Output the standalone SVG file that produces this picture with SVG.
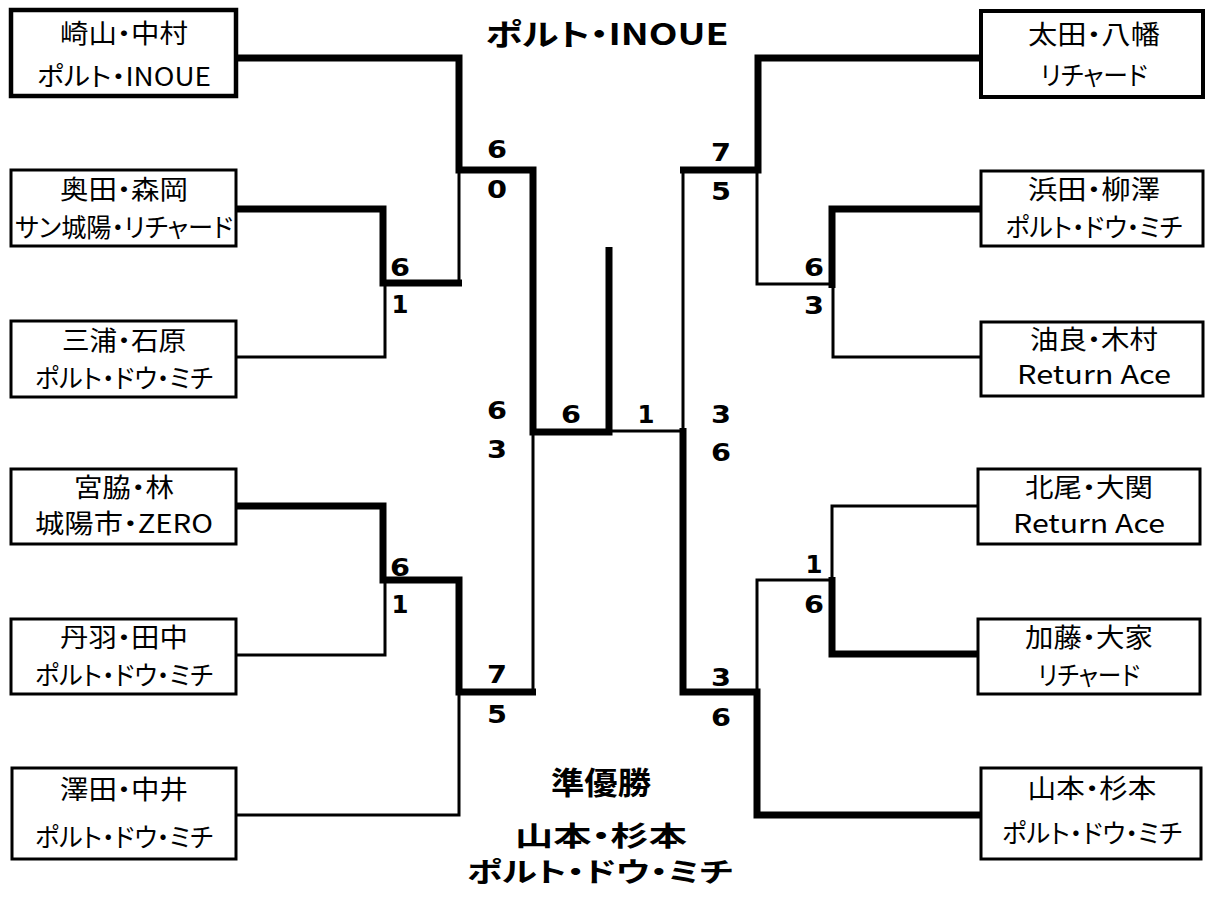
<svg xmlns="http://www.w3.org/2000/svg" width="1209" height="904" viewBox="0 0 1209 904">
<style>
.box{fill:#fff;stroke:#000;stroke-width:3}
.b1{stroke-width:4.5}
.t{font-family:"Noto Sans CJK JP","Noto Sans",sans-serif;font-size:26px;fill:#000;text-anchor:middle;font-feature-settings:"palt"}
.title{font-family:"Noto Sans CJK JP","Noto Sans",sans-serif;font-size:28px;font-weight:bold;fill:#000;text-anchor:middle;font-feature-settings:"palt"}
.s{font-family:"DejaVu Sans","Liberation Sans",sans-serif;font-size:24px;font-weight:bold;fill:#000;text-anchor:middle}
.thick{fill:none;stroke:#000;stroke-width:7;stroke-linejoin:miter;stroke-linecap:butt}
.thin{fill:none;stroke:#000;stroke-width:3;stroke-linejoin:miter;stroke-linecap:butt}
</style>
<rect width="1209" height="904" fill="#fff"/>
<g id="connectors">
<path class="thin" d="M459 170V283"/>
<path class="thin" d="M237 357H385V283"/>
<path class="thin" d="M237 655H385V580"/>
<path class="thin" d="M237 815H459V692"/>
<path class="thin" d="M533 432V692"/>
<path class="thin" d="M609 431H683V170"/>
<path class="thin" d="M757 170V284H832"/>
<path class="thin" d="M980 357H833V284"/>
<path class="thin" d="M980 506H832V580H757V692"/>
<path class="thick" d="M237 58H459V170H533V432H609V247"/>
<path class="thick" d="M237 209H383V283H462"/>
<path class="thick" d="M237 506H383V580H459V692H536"/>
<path class="thick" d="M980 58H758V170H680"/>
<path class="thick" d="M683 428V692H757V815H980"/>
<path class="thick" d="M980 209H832V288"/>
<path class="thick" d="M980 654H832V577"/>
</g>
<g id="scores">
<text class="s" x="400" y="276" textLength="20" lengthAdjust="spacingAndGlyphs">6</text>
<text class="s" x="400" y="313" textLength="17" lengthAdjust="spacingAndGlyphs">1</text>
<text class="s" x="497" y="158" textLength="20" lengthAdjust="spacingAndGlyphs">6</text>
<text class="s" x="497" y="198" textLength="20" lengthAdjust="spacingAndGlyphs">0</text>
<text class="s" x="721" y="161" textLength="20" lengthAdjust="spacingAndGlyphs">7</text>
<text class="s" x="721" y="200" textLength="20" lengthAdjust="spacingAndGlyphs">5</text>
<text class="s" x="497" y="419" textLength="20" lengthAdjust="spacingAndGlyphs">6</text>
<text class="s" x="497" y="458" textLength="20" lengthAdjust="spacingAndGlyphs">3</text>
<text class="s" x="571" y="423" textLength="20" lengthAdjust="spacingAndGlyphs">6</text>
<text class="s" x="646" y="423" textLength="17" lengthAdjust="spacingAndGlyphs">1</text>
<text class="s" x="721" y="423" textLength="20" lengthAdjust="spacingAndGlyphs">3</text>
<text class="s" x="721" y="461" textLength="20" lengthAdjust="spacingAndGlyphs">6</text>
<text class="s" x="814" y="276" textLength="20" lengthAdjust="spacingAndGlyphs">6</text>
<text class="s" x="814" y="314" textLength="20" lengthAdjust="spacingAndGlyphs">3</text>
<text class="s" x="814" y="573" textLength="17" lengthAdjust="spacingAndGlyphs">1</text>
<text class="s" x="814" y="613" textLength="20" lengthAdjust="spacingAndGlyphs">6</text>
<text class="s" x="721" y="686" textLength="20" lengthAdjust="spacingAndGlyphs">3</text>
<text class="s" x="721" y="726" textLength="20" lengthAdjust="spacingAndGlyphs">6</text>
<text class="s" x="400" y="576" textLength="20" lengthAdjust="spacingAndGlyphs">6</text>
<text class="s" x="400" y="613" textLength="17" lengthAdjust="spacingAndGlyphs">1</text>
<text class="s" x="497" y="683" textLength="20" lengthAdjust="spacingAndGlyphs">7</text>
<text class="s" x="497" y="723" textLength="20" lengthAdjust="spacingAndGlyphs">5</text>
</g>
<g id="L1"><rect class="box b1" x="11" y="10" width="225" height="86"/>
<text class="t" x="124" y="43" textLength="128" lengthAdjust="spacingAndGlyphs">崎山・中村</text>
<text class="t" x="124" y="86" textLength="174" lengthAdjust="spacingAndGlyphs">ポルト・INOUE</text></g>
<g id="L2"><rect class="box" x="11" y="170" width="225" height="76"/>
<text class="t" x="124" y="199" textLength="128" lengthAdjust="spacingAndGlyphs">奥田・森岡</text>
<text class="t" x="124" y="237" textLength="218" lengthAdjust="spacingAndGlyphs">サン城陽・リチャード</text></g>
<g id="L3"><rect class="box" x="11" y="321" width="225" height="76"/>
<text class="t" x="124" y="350" textLength="124" lengthAdjust="spacingAndGlyphs">三浦・石原</text>
<text class="t" x="124" y="388" textLength="178" lengthAdjust="spacingAndGlyphs">ポルト・ドウ・ミチ</text></g>
<g id="L4"><rect class="box" x="11" y="469" width="225" height="75"/>
<text class="t" x="124" y="497" textLength="100" lengthAdjust="spacingAndGlyphs">宮脇・林</text>
<text class="t" x="124" y="533" textLength="178" lengthAdjust="spacingAndGlyphs">城陽市・ZERO</text></g>
<g id="L5"><rect class="box" x="11" y="619" width="225" height="75"/>
<text class="t" x="124" y="647" textLength="128" lengthAdjust="spacingAndGlyphs">丹羽・田中</text>
<text class="t" x="124" y="685" textLength="178" lengthAdjust="spacingAndGlyphs">ポルト・ドウ・ミチ</text></g>
<g id="L6"><rect class="box" x="12" y="768" width="224" height="91"/>
<text class="t" x="124" y="799" textLength="128" lengthAdjust="spacingAndGlyphs">澤田・中井</text>
<text class="t" x="124" y="847" textLength="178" lengthAdjust="spacingAndGlyphs">ポルト・ドウ・ミチ</text></g>
<g id="R1"><rect class="box" x="981" y="11" width="222" height="86" style="stroke-width:4"/>
<text class="t" x="1094" y="44" textLength="132" lengthAdjust="spacingAndGlyphs">太田・八幡</text>
<text class="t" x="1094" y="85" textLength="107" lengthAdjust="spacingAndGlyphs">リチャード</text></g>
<g id="R2"><rect class="box" x="981" y="171" width="222" height="75"/>
<text class="t" x="1094" y="199" textLength="132" lengthAdjust="spacingAndGlyphs">浜田・柳澤</text>
<text class="t" x="1094" y="237" textLength="177" lengthAdjust="spacingAndGlyphs">ポルト・ドウ・ミチ</text></g>
<g id="R3"><rect class="box" x="981" y="322" width="222" height="74"/>
<text class="t" x="1094" y="349" textLength="128" lengthAdjust="spacingAndGlyphs">油良・木村</text>
<text class="t" x="1094" y="384" textLength="154" lengthAdjust="spacingAndGlyphs">Return Ace</text></g>
<g id="R4"><rect class="box" x="978" y="469" width="222" height="75"/>
<text class="t" x="1089" y="497" textLength="128" lengthAdjust="spacingAndGlyphs">北尾・大関</text>
<text class="t" x="1089" y="533" textLength="152" lengthAdjust="spacingAndGlyphs">Return Ace</text></g>
<g id="R5"><rect class="box" x="978" y="619" width="222" height="75"/>
<text class="t" x="1089" y="647" textLength="128" lengthAdjust="spacingAndGlyphs">加藤・大家</text>
<text class="t" x="1089" y="685" textLength="102" lengthAdjust="spacingAndGlyphs">リチャード</text></g>
<g id="R6"><rect class="box" x="981" y="768" width="220" height="91"/>
<text class="t" x="1092" y="798" textLength="129" lengthAdjust="spacingAndGlyphs">山本・杉本</text>
<text class="t" x="1092" y="843" textLength="180" lengthAdjust="spacingAndGlyphs">ポルト・ドウ・ミチ</text></g>
<g id="champion"><text class="title" x="607" y="45" textLength="243" lengthAdjust="spacingAndGlyphs" style="font-size:30px">ポルト・INOUE</text></g>
<g id="runnerup">
<text class="title" x="601" y="794" textLength="100" lengthAdjust="spacingAndGlyphs" style="font-size:31px">準優勝</text>
<text class="title" x="601" y="846" textLength="172" lengthAdjust="spacingAndGlyphs" style="font-size:27px">山本・杉本</text>
<text class="title" x="600" y="882" textLength="266" lengthAdjust="spacingAndGlyphs" style="font-size:27px">ポルト・ドウ・ミチ</text>
</g>
</svg>
